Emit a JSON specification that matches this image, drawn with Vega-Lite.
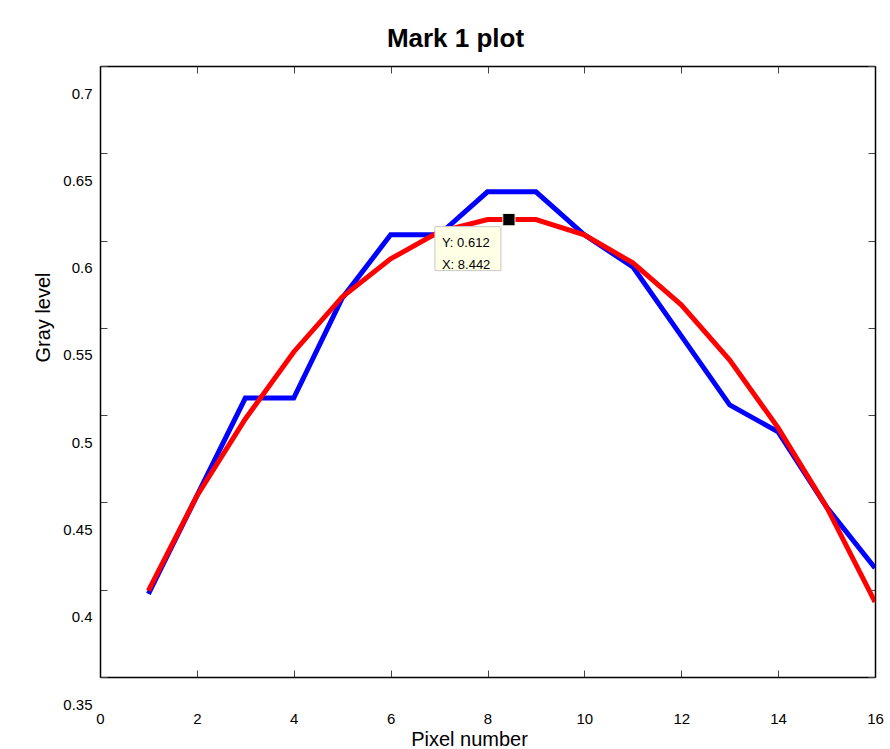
{
  "$schema": "https://vega.github.io/schema/vega-lite/v6.json",
  "width": 775,
  "height": 611,
  "autosize": {"type": "none"},
  "padding": {"left": 100, "top": 66, "right": 15, "bottom": 72},
  "background": "white",
  "title": {"text": "Mark 1 plot", "font": "Liberation Sans", "fontSize": 26, "fontWeight": "bold", "color": "black", "anchor": "middle", "dx": -32, "offset": 14},
  "config": {
    "view": {"stroke": null},
    "axis": {"grid": false, "domainColor": "black", "domainWidth": 1.5, "tickColor": "#444", "tickSize": -7, "tickWidth": 1, "labelFont": "Liberation Sans", "labelFontSize": 15, "labelColor": "black", "titleFont": "Liberation Sans", "titleFontSize": 20, "titleFontWeight": "normal", "titleColor": "black", "labelFlush": false, "labelOverlap": false}
  },
  "datasets": {
    "measured": [
      {"pixel": 1, "gray": 0.3976}, {"pixel": 2, "gray": 0.4537}, {"pixel": 3, "gray": 0.5098}, {"pixel": 4, "gray": 0.5098},
      {"pixel": 5, "gray": 0.567}, {"pixel": 6, "gray": 0.6033}, {"pixel": 7, "gray": 0.6033}, {"pixel": 8, "gray": 0.6279},
      {"pixel": 9, "gray": 0.6279}, {"pixel": 10, "gray": 0.6033}, {"pixel": 11, "gray": 0.5849}, {"pixel": 12, "gray": 0.5454},
      {"pixel": 13, "gray": 0.5059}, {"pixel": 14, "gray": 0.4904}, {"pixel": 15, "gray": 0.4474}, {"pixel": 16, "gray": 0.4125}
    ],
    "fitted": [
      {"pixel": 1, "gray": 0.3995}, {"pixel": 2, "gray": 0.4537}, {"pixel": 3, "gray": 0.4978}, {"pixel": 4, "gray": 0.5362},
      {"pixel": 5, "gray": 0.5677}, {"pixel": 6, "gray": 0.5895}, {"pixel": 7, "gray": 0.605}, {"pixel": 8, "gray": 0.612},
      {"pixel": 9, "gray": 0.612}, {"pixel": 10, "gray": 0.6033}, {"pixel": 11, "gray": 0.5872}, {"pixel": 12, "gray": 0.5632},
      {"pixel": 13, "gray": 0.5316}, {"pixel": 14, "gray": 0.4927}, {"pixel": 15, "gray": 0.4474}, {"pixel": 16, "gray": 0.393}
    ],
    "cursor": [
      {"pixel": 8.442, "gray": 0.612, "ytext": "Y: 0.612", "xtext": "X: 8.442"}
    ]
  },
  "resolve": {"axis": {"x": "independent", "y": "independent"}},
  "layer": [
    {
      "data": {"name": "measured"},
      "mark": {"type": "line", "color": "#0000ff", "strokeWidth": 5, "strokeJoin": "miter", "clip": true},
      "encoding": {
        "x": {"field": "pixel", "type": "quantitative", "scale": {"domain": [0, 16], "nice": false, "zero": false},
          "axis": {"orient": "bottom", "values": [0, 2, 4, 6, 8, 10, 12, 14, 16], "labelPadding": 41, "title": "Pixel number", "titleX": 369, "titleY": 62, "titleBaseline": "middle", "titleAnchor": null}},
        "y": {"field": "gray", "type": "quantitative", "scale": {"domain": [0.35, 0.7], "nice": false, "zero": false},
          "axis": {"orient": "left", "values": [0.35, 0.4, 0.45, 0.5, 0.55, 0.6, 0.65, 0.7], "format": "~g", "labelPadding": 15, "labelOffset": 27, "title": "Gray level", "titleAngle": -90, "titleX": -57, "titleY": 251, "titleBaseline": "middle", "titleAnchor": null}}
      }
    },
    {
      "data": {"name": "fitted"},
      "mark": {"type": "line", "color": "#ff0000", "strokeWidth": 5, "strokeJoin": "miter", "clip": true},
      "encoding": {
        "x": {"field": "pixel", "type": "quantitative", "scale": {"domain": [0, 16], "nice": false, "zero": false},
          "axis": {"orient": "top", "values": [0, 2, 4, 6, 8, 10, 12, 14, 16], "labels": false, "title": null}},
        "y": {"field": "gray", "type": "quantitative", "scale": {"domain": [0.35, 0.7], "nice": false, "zero": false},
          "axis": {"orient": "right", "values": [0.35, 0.4, 0.45, 0.5, 0.55, 0.6, 0.65, 0.7], "labels": false, "title": null}}
      }
    },
    {
      "data": {"name": "cursor"},
      "mark": {"type": "rect", "width": 66, "height": 44, "xOffset": -41, "yOffset": 29, "fill": "#ffffe6", "stroke": "#c8c8c8", "strokeWidth": 1},
      "encoding": {
        "x": {"field": "pixel", "type": "quantitative", "axis": null},
        "y": {"field": "gray", "type": "quantitative", "axis": null}
      }
    },
    {
      "data": {"name": "cursor"},
      "mark": {"type": "text", "font": "Liberation Sans", "fontSize": 13, "color": "black", "align": "left", "baseline": "middle", "dx": -67, "dy": 23},
      "encoding": {
        "x": {"field": "pixel", "type": "quantitative", "axis": null},
        "y": {"field": "gray", "type": "quantitative", "axis": null},
        "text": {"field": "ytext"}
      }
    },
    {
      "data": {"name": "cursor"},
      "mark": {"type": "text", "font": "Liberation Sans", "fontSize": 13, "color": "black", "align": "left", "baseline": "middle", "dx": -67, "dy": 45},
      "encoding": {
        "x": {"field": "pixel", "type": "quantitative", "axis": null},
        "y": {"field": "gray", "type": "quantitative", "axis": null},
        "text": {"field": "xtext"}
      }
    },
    {
      "data": {"name": "cursor"},
      "mark": {"type": "point", "shape": "square", "filled": true, "size": 150, "color": "black", "opacity": 1, "stroke": "#f0f0d0", "strokeWidth": 1},
      "encoding": {
        "x": {"field": "pixel", "type": "quantitative", "axis": null},
        "y": {"field": "gray", "type": "quantitative", "axis": null}
      }
    }
  ]
}
